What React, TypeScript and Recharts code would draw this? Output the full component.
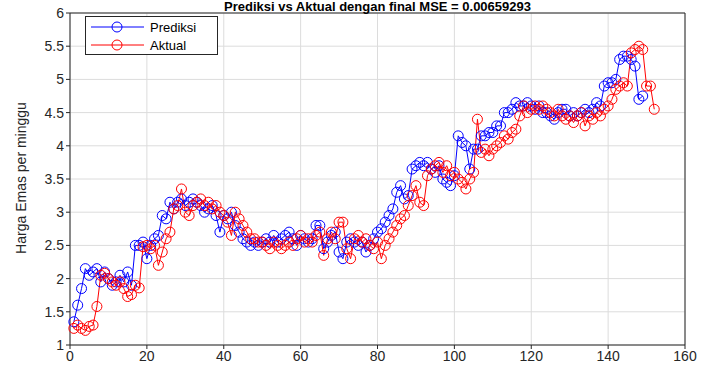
import {
  LineChart,
  Line,
  XAxis,
  YAxis,
  CartesianGrid,
  ReferenceLine,
} from "recharts";

const AKTUAL: number[] = [
  1.25, 1.3, 1.25, 1.22, 1.28, 1.3, 1.58, 2.05, 2.08, 2.0,
  1.95, 1.9, 1.95, 1.85, 1.73, 1.76, 1.9, 1.86, 2.48, 2.5,
  2.45, 2.5, 2.2, 2.4, 2.6, 2.7, 3.05, 3.1, 3.35, 3.0,
  2.95, 3.1, 3.15, 3.2, 3.1, 3.15, 3.05, 3.1, 3.0, 2.95,
  2.85, 2.65, 3.0, 2.9, 2.8, 2.7, 2.6, 2.6, 2.55, 2.55,
  2.5, 2.45, 2.55, 2.5, 2.45, 2.5, 2.55, 2.5, 2.6, 2.65,
  2.55, 2.6, 2.55, 2.65, 2.7, 2.35, 2.6, 2.7, 2.6, 2.85,
  2.85, 2.45, 2.3, 2.6, 2.65, 2.55, 2.6, 2.5, 2.45, 2.55,
  2.3, 2.5, 2.6, 2.7, 2.8, 2.9, 2.95, 3.1, 3.25, 3.4,
  3.15, 3.1, 3.55, 3.65, 3.7, 3.75, 3.6, 3.7, 3.55, 3.6,
  3.5, 3.45, 3.35, 3.5, 3.6, 4.4, 3.9, 3.95, 3.85, 3.95,
  4.0, 4.05, 4.15, 4.1, 4.2, 4.25, 4.45, 4.6, 4.5, 4.55,
  4.6, 4.55, 4.6, 4.55, 4.5, 4.45, 4.55, 4.45, 4.4, 4.45,
  4.35, 4.45, 4.5, 4.3, 4.45, 4.4, 4.5, 4.45, 4.55, 4.6,
  4.7, 4.85, 4.9, 4.95, 4.9, 5.4, 5.45, 5.5, 5.45, 4.9,
  4.9, 4.55,
];

const PREDIKSI: number[] = [
  1.35, 1.6, 1.85, 2.15, 2.05, 2.1, 2.15, 1.95, 2.1, 2.0,
  1.9, 1.95, 2.05, 1.95, 2.1, 1.9, 2.5, 2.5, 2.55, 2.3,
  2.5, 2.6, 2.65, 2.95, 2.9, 3.15, 3.05, 3.15, 3.2, 3.1,
  3.15, 3.2, 3.15, 3.1, 3.0, 3.05, 3.1, 2.95, 2.7, 2.95,
  2.9, 3.0, 2.8, 2.7, 2.6, 2.55, 2.5, 2.55, 2.5, 2.55,
  2.6, 2.55, 2.65, 2.55, 2.6, 2.65, 2.7, 2.6, 2.5, 2.65,
  2.6, 2.55, 2.6, 2.8, 2.8, 2.45, 2.55, 2.65, 2.7, 2.4,
  2.3, 2.55, 2.6, 2.55, 2.5, 2.55, 2.4, 2.5, 2.6, 2.7,
  2.75, 2.85, 2.95, 3.05, 3.3, 3.4, 3.2, 3.25, 3.65, 3.7,
  3.75, 3.7, 3.75, 3.65, 3.6, 3.7, 3.5, 3.45, 3.4, 3.55,
  4.15, 4.05, 4.0, 3.65, 3.95, 3.95, 4.15, 4.15, 4.2, 4.2,
  4.3, 4.3, 4.5, 4.5, 4.55, 4.65, 4.6, 4.6, 4.65, 4.6,
  4.55, 4.6, 4.5, 4.5, 4.45, 4.4, 4.5, 4.55, 4.55, 4.45,
  4.5, 4.45, 4.5, 4.55, 4.5, 4.55, 4.65, 4.6, 4.9, 4.95,
  4.95, 5.0, 5.3, 5.35, 5.35, 5.3, 5.2, 4.7, 4.75,
];

const X_TICKS = [0, 20, 40, 60, 80, 100, 120, 140, 160];
const Y_TICKS = [1, 1.5, 2, 2.5, 3, 3.5, 4, 4.5, 5, 5.5, 6];

const TITLE = "Prediksi vs Aktual dengan final MSE = 0.00659293";
const Y_LABEL = "Harga Emas per minggu";
const SERIES = [
  { name: "Prediksi", color: "#0000ff" },
  { name: "Aktual", color: "#ff0000" },
];

const FONT = "'Liberation Sans', Arial, sans-serif";
const AXIS = "#262626";
const GRID = "#dcdcdc";

const data = AKTUAL.map((v, i) => ({
  x: i + 1,
  aktual: v,
  prediksi: i < PREDIKSI.length ? PREDIKSI[i] : null,
}));

// legend box sits inside the plot, top-left, like matlab's "northwest"
function LegendBox() {
  return (
    <div
      style={{
        position: "absolute",
        left: 85,
        top: 16,
        width: 133,
        height: 39,
        border: "1px solid #262626",
        background: "#fff",
        fontFamily: FONT,
        fontSize: 13,
        color: "#000",
        boxSizing: "border-box",
        paddingTop: 1,
      }}
    >
      {SERIES.map((it) => (
        <div key={it.name} style={{ display: "flex", alignItems: "center", height: 18 }}>
          <svg width={62} height={14}>
            <line x1={5} x2={58} y1={7} y2={7} stroke={it.color} strokeWidth={1} />
            <circle cx={31} cy={7} r={5} fill="none" stroke={it.color} strokeWidth={1} />
          </svg>
          <span style={{ marginLeft: 2 }}>{it.name}</span>
        </div>
      ))}
    </div>
  );
}

export default function App() {
  return (
    <div style={{ position: "absolute", left: 0, top: 0, width: 701, height: 371, background: "#fff" }}>
      <LineChart
        width={701}
        height={371}
        data={data}
        margin={{ top: 13, right: 16, bottom: 6, left: 0 }}
      >
        <CartesianGrid stroke={GRID} horizontalValues={Y_TICKS} verticalValues={X_TICKS} />
        <XAxis
          dataKey="x"
          type="number"
          domain={[0, 160]}
          ticks={X_TICKS}
          height={20}
          stroke={AXIS}
          tickSize={4}
          tick={{ fill: AXIS, fontSize: 14, fontFamily: FONT }}
          interval={0}
        />
        <YAxis
          type="number"
          domain={[1, 6]}
          ticks={Y_TICKS}
          width={70}
          stroke={AXIS}
          tickSize={4}
          tick={{ fill: AXIS, fontSize: 14, fontFamily: FONT }}
          interval={0}
          allowDataOverflow
        />
        <ReferenceLine y={6} stroke={AXIS} />
        <ReferenceLine x={160} stroke={AXIS} />
        <Line
          type="linear"
          dataKey="prediksi"
          stroke="#0000ff"
          strokeWidth={1}
          dot={{ r: 5, fill: "none", stroke: "#0000ff", strokeWidth: 1 }}
          isAnimationActive={false}
          connectNulls={false}
        />
        <Line
          type="linear"
          dataKey="aktual"
          stroke="#ff0000"
          strokeWidth={1}
          dot={{ r: 5, fill: "none", stroke: "#ff0000", strokeWidth: 1 }}
          isAnimationActive={false}
        />
        <text
          x={26}
          y={178}
          textAnchor="middle"
          fontFamily={FONT}
          fontSize={14}
          fill={AXIS}
          transform="rotate(-90 26 178)"
        >
          {Y_LABEL}
        </text>
      </LineChart>
      <div
        style={{
          position: "absolute",
          left: 70,
          top: 0,
          width: 615,
          textAlign: "center",
          fontFamily: FONT,
          fontWeight: "bold",
          fontSize: 13,
          lineHeight: "13px",
          color: "#000",
        }}
      >
        {TITLE}
      </div>
      <LegendBox />
    </div>
  );
}
